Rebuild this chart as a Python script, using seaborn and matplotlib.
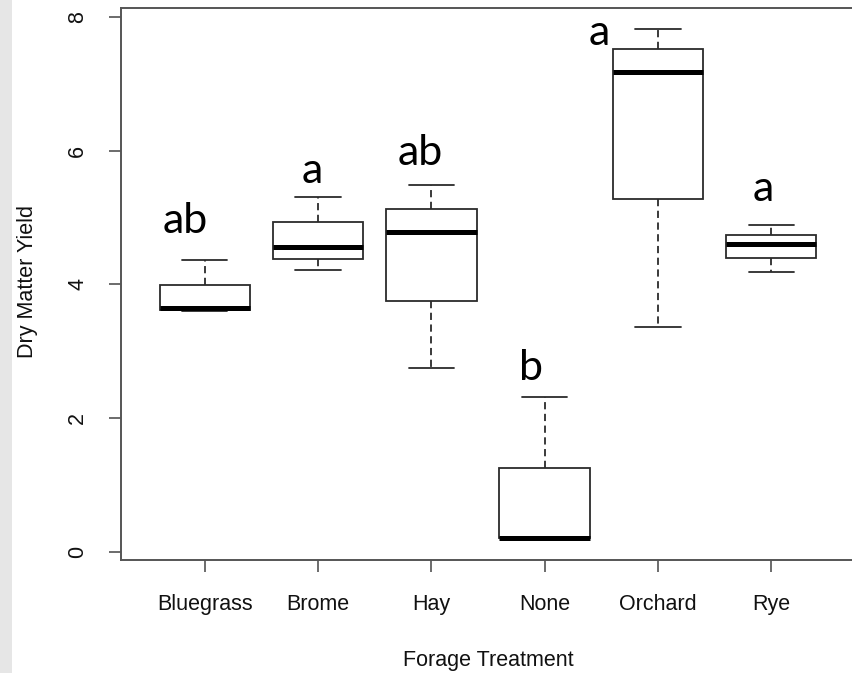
import numpy as np
import pandas as pd
import matplotlib
matplotlib.use("Agg")
import matplotlib.pyplot as plt
import seaborn as sns
from matplotlib.patches import Rectangle

# forage treatments on the x axis
treatments = ["Bluegrass", "Brome", "Hay", "None", "Orchard", "Rye"]

# five plots per treatment (min, hinge, median, hinge, max)
bluegrass = [3.60, 3.62, 3.64, 3.99, 4.36]
brome = [4.21, 4.38, 4.56, 4.93, 5.30]
hay = [2.75, 3.75, 4.78, 5.12, 5.48]
none = [0.20, 0.21, 0.21, 1.26, 2.31]
orchard = [3.36, 5.28, 7.18, 7.51, 7.82]
rye = [4.18, 4.40, 4.60, 4.73, 4.88]

# mean separation letters
letters = ["ab", "a", "ab", "b", "a", "a"]
letter_pos = [(-0.17, 4.76), (-0.05, 5.52), (-0.10, 5.78),
              (-0.12, 2.57), (-0.52, 7.57), (-0.07, 5.25)]

yticks = [0, 2, 4, 6, 8]

yields = [bluegrass, brome, hay, none, orchard, rye]
df = pd.DataFrame({
    "Forage Treatment": np.repeat(treatments, [len(v) for v in yields]),
    "Dry Matter Yield": np.concatenate(yields),
})

sns.set_theme(style="white")
plt.rcParams["font.family"] = ["Liberation Sans", "DejaVu Sans"]

fig = plt.figure(figsize=(8.52, 6.73), dpi=100)
fig.patch.set_facecolor("white")
# light grey strip of the slide background on the left edge
fig.patches.append(Rectangle((0, 0), 12 / 852, 1, transform=fig.transFigure,
                             facecolor="#e6e6e6", edgecolor="none", zorder=-5))

ax = fig.add_axes([121 / 852, 113 / 673, 734 / 852, 552 / 673])

sns.boxplot(
    data=df, x="Forage Treatment", y="Dry Matter Yield", order=treatments,
    width=0.8, whis=1.5, color="white", linecolor="#2b2b2b", linewidth=1.3,
    medianprops=dict(color="black", linewidth=3.6, solid_capstyle="butt"),
    whiskerprops=dict(linestyle=(0, (4, 2.5))),
    showfliers=False, ax=ax,
)

for i, (lab, (dx, y)) in enumerate(zip(letters, letter_pos)):
    ax.text(i + dx, y, lab, ha="center", va="baseline", fontsize=31,
            family=["Lato", "DejaVu Sans"], color="black")

ax.set_xlim(-0.74, 5.74)
ax.set_ylim(-0.12, 8.13)
ax.set_yticks(yticks)
ax.set_yticklabels([str(t) for t in yticks], rotation=90, va="center")

ax.tick_params(axis="x", length=8.6, width=1.1, pad=16, labelsize=15.5,
               color="#444444", labelcolor="#111111", bottom=True)
ax.tick_params(axis="y", length=8.6, width=1.1, pad=15, labelsize=15.5,
               color="#444444", labelcolor="#111111", left=True)

for side in ["left", "right", "top", "bottom"]:
    ax.spines[side].set_visible(True)
    ax.spines[side].set_color("#555555")
    ax.spines[side].set_linewidth(1.4)

ax.set_xlabel("Forage Treatment", fontsize=15.5, color="#111111")
ax.set_ylabel("Dry Matter Yield", fontsize=15.5, color="#111111")
ax.xaxis.set_label_coords(0.5, -0.163)
ax.yaxis.set_label_coords(-0.113, 0.504)

fig.savefig("out.png", dpi=100, facecolor="white")
plt.close(fig)
